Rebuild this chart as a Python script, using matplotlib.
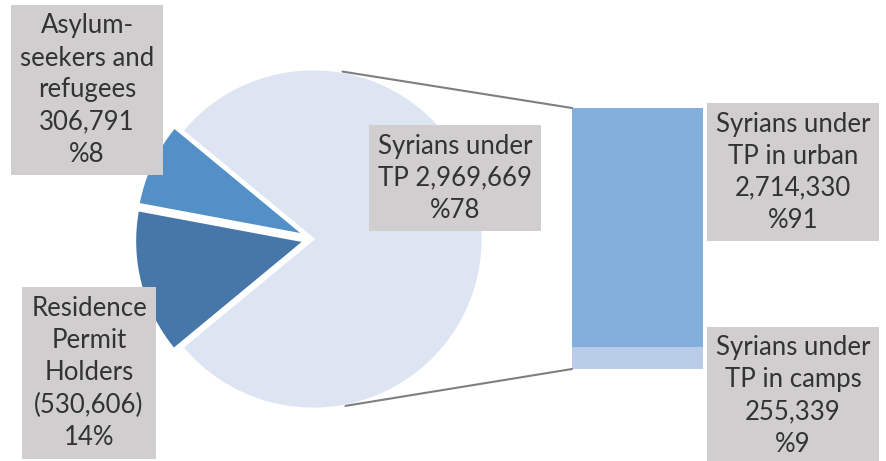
import numpy as np
import matplotlib.pyplot as plt
from matplotlib.patches import ConnectionPatch

plt.rcParams['font.family'] = ['Lato', 'DejaVu Sans']

# pie: main groups
pie_values = [2969669, 306791, 530606]
pie_labels = ['Syrians under\nTP 2,969,669\n%78',
              'Asylum-\nseekers and\nrefugees\n306,791\n%8',
              'Residence\nPermit\nHolders\n(530,606)\n14%']
pie_colors = ['#DDE5F2', '#5290C7', '#4677A8']

# bar: split of Syrians under TP
bar_values = [255339, 2714330]
bar_labels = ['Syrians under\nTP in camps\n255,339\n%9',
              'Syrians under\nTP in urban\n2,714,330\n%91']
bar_colors = ['#B8CCE8', '#84AEDB']

W, H = 886, 461
fig = plt.figure(figsize=(W / 100, H / 100), dpi=100)

# pie axes (square, centre ~ (313,239) px, radius 170 px)
ax_pie = fig.add_axes([143 / W, (H - 409) / H, 340 / W, 340 / H])
big_frac = pie_values[0] / sum(pie_values)
wedges, _ = ax_pie.pie(pie_values, colors=pie_colors, startangle=-big_frac * 180,
                       explode=[0, 0.05, 0.05], radius=1,
                       wedgeprops=dict(edgecolor='white', linewidth=2))
for w in wedges:
    w.set_clip_on(False)
ax_pie.set_xlim(-1, 1)
ax_pie.set_ylim(-1, 1)
ax_pie.set_aspect('equal')
ax_pie.axis('off')

# stacked bar
ax_bar = fig.add_axes([572 / W, (H - 369) / H, 131 / W, 261 / H])
bottom = 0
for v, c in zip(bar_values, bar_colors):
    ax_bar.bar(0, v, width=1, bottom=bottom, color=c)
    bottom += v
ax_bar.set_xlim(-0.5, 0.5)
ax_bar.set_ylim(0, sum(bar_values))
ax_bar.axis('off')

# connector lines from pie to bar
for ang, yb in [(80, 1), (-79, 0)]:
    a = np.deg2rad(ang)
    con = ConnectionPatch(xyA=(np.cos(a), np.sin(a)), coordsA=ax_pie.transData,
                          xyB=(-0.5, sum(bar_values) * yb), coordsB=ax_bar.transData,
                          color='#7F7F7F', linewidth=1.5)
    fig.add_artist(con)

# label boxes
box = dict(boxstyle='square,pad=0.35', facecolor='#D0CECE', edgecolor='none')
label_pos = [(455, 178), (87, 90), (89, 373)]
for txt, (x, y) in zip(pie_labels, label_pos):
    fig.text(x / W, 1 - y / H, txt, ha='center', va='center', fontsize=18.5,
             color='#333333', linespacing=1.35, bbox=box)
bar_pos = [(793, 396), (793, 172)]
for txt, (x, y) in zip(bar_labels, bar_pos):
    fig.text(x / W, 1 - y / H, txt, ha='center', va='center', fontsize=18.5,
             color='#333333', linespacing=1.35, bbox=box)

fig.savefig('out.png', dpi=100)
